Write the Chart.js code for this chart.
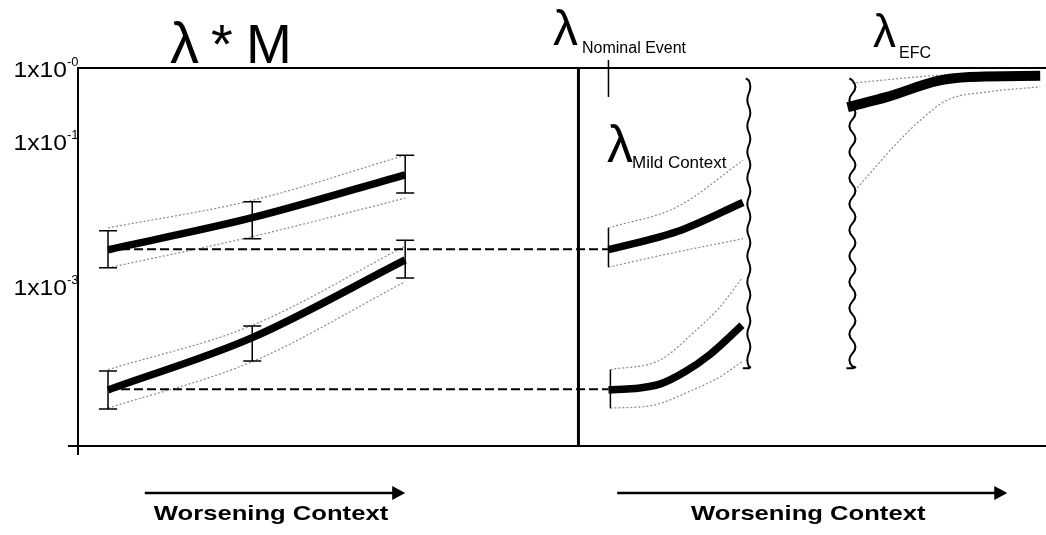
<!DOCTYPE html>
<html>
<head>
<meta charset="utf-8">
<script src="https://cdn.jsdelivr.net/npm/chart.js@4.4.1/dist/chart.umd.min.js"></script>
<style>
  html, body { margin: 0; padding: 0; background: #fff; }
  #wrap { width: 1046px; height: 535px; }
</style>
</head>
<body>
<div id="wrap"><canvas id="chart"></canvas></div>
<script>
// x = context severity (0..100), y = probability on a log axis
const yMin = 6.3e-6;
const yMax = 1;
const yTickValues = [1, 0.1, 0.001];
const yTickExp = ["-0", "-1", "-3"];

// left panel: lambda * M, three context levels
const leftX = [3.1, 18.0, 33.8];
const taskA = [3.16e-3, 8.71e-3, 3.39e-2];
const taskAHi = [5.75e-3, 1.45e-2, 6.31e-2];
const taskALo = [1.78e-3, 4.47e-3, 1.91e-2];
const bandAUp = [6.31e-3, 1.51e-2, 6.31e-2];
const bandALow = [1.78e-3, 4.79e-3, 1.62e-2];

const taskB = [3.72e-5, 1.95e-4, 2.29e-3];
const taskBHi = [6.76e-5, 2.82e-4, 4.27e-3];
const taskBLo = [2.04e-5, 9.33e-5, 1.29e-3];
const bandBUp = [7.08e-5, 2.88e-4, 3.55e-3];
const bandBLow = [2.09e-5, 9.12e-5, 1.15e-3];

// nominal levels carried across (dashed)
const nominalX = [3.1, 54.8];
const nominalA = [3.2e-3, 3.2e-3];
const nominalB = [3.8e-5, 3.8e-5];

// divider between the two panels
const dividerX = [51.7, 51.7];
const dividerY = [1, 6.3e-6];

// right panel: mild context
const mildX = [54.8, 61.9, 68.7];
const mildA = [3.16e-3, 5.62e-3, 1.41e-2];
const mildAUp = [6.31e-3, 1.23e-2, 5.37e-2];
const mildALow = [1.82e-3, 2.95e-3, 4.47e-3];

const mildBX = [54.8, 57.5, 60.1, 62.7, 65.3, 68.6];
const mildB = [3.72e-5, 3.89e-5, 4.47e-5, 6.61e-5, 1.15e-4, 2.88e-4];
const mildBUpX = [55.0, 60.1, 63.5, 66.3, 68.6];
const mildBUp = [7.08e-5, 9.55e-5, 2.24e-4, 5.13e-4, 1.29e-3];
const mildBLowX = [55.0, 59.4, 63.5, 66.3, 68.6];
const mildBLow = [2.09e-5, 2.29e-5, 3.72e-5, 5.62e-5, 9.12e-5];

// error forcing context
const efcX = [79.5, 83.6, 88.7, 92.1, 99.4];
const efc = [0.29, 0.40, 0.66, 0.75, 0.78];
const efcUpX = [80.0, 88.7, 99.4];
const efcUp = [0.62, 0.79, 0.88];
const efcLowX = [80.5, 84.9, 87.0, 89.8, 93.9, 99.4];
const efcLow = [0.0224, 0.102, 0.19, 0.363, 0.468, 0.55];

// breaks, markers, arrows
const breakX = [69.3, 80.0];
const breakAmp = [3, 6];
const breakRange = [0.72, 7.4e-5];
const nominalTickX = 54.8;
const arrowFrom = [6.9, 55.7];
const arrowTo = [33.8, 96.0];
const arrowLabel = ["Worsening Context", "Worsening Context"];

const pts = (xs, ys) => xs.map((x, i) => ({ x: x, y: ys[i] }));

function thick(xs, ys, w) {
  return { data: pts(xs, ys), borderColor: "#000", borderWidth: w || 7.5, pointRadius: 0,
           cubicInterpolationMode: "monotone", borderCapStyle: "butt", order: 1 };
}
function band(xs, ys) {
  return { data: pts(xs, ys), borderColor: "#8a8a8a", borderWidth: 1.2, borderDash: [2, 2],
           pointRadius: 0, cubicInterpolationMode: "monotone", order: 3 };
}
function dashed(xs, ys) {
  return { data: pts(xs, ys), borderColor: "#000", borderWidth: 2, borderDash: [9, 4],
           pointRadius: 0, order: 2 };
}

function txt(ctx, s, x, y, font, align, sx) {
  ctx.save();
  ctx.font = font;
  ctx.textAlign = align || "left";
  ctx.textBaseline = "alphabetic";
  ctx.fillStyle = "#000";
  ctx.translate(x, y);
  ctx.scale(sx || 1, 1);
  ctx.fillText(s, 0, 0);
  ctx.restore();
}

function wavy(ctx, x, yTop, yBot, amp) {
  ctx.beginPath();
  ctx.moveTo(x - 3, yTop);
  ctx.lineTo(x, yTop + 2);
  let y = yTop + 2;
  let s = 1;
  while (y < yBot) {
    const ny = Math.min(y + 13, yBot);
    ctx.quadraticCurveTo(x + s * amp, (y + ny) / 2, x, ny);
    y = ny;
    s = -s;
  }
  ctx.lineTo(x - 6, yBot);
  ctx.stroke();
}

const overlay = {
  id: "overlay",
  afterDraw(chart) {
    const ctx = chart.ctx;
    const xs = chart.scales.x;
    const ys = chart.scales.y;
    const area = chart.chartArea;
    ctx.save();
    ctx.strokeStyle = "#000";
    ctx.lineWidth = 2;

    // axis crossing stubs
    ctx.beginPath();
    ctx.moveTo(area.left - 10, area.bottom);
    ctx.lineTo(area.left, area.bottom);
    ctx.moveTo(area.left, area.bottom);
    ctx.lineTo(area.left, area.bottom + 9);
    ctx.stroke();

    // y tick labels with superscripts
    yTickValues.forEach((v, i) => {
      const py = ys.getPixelForValue(v);
      txt(ctx, "1x10", area.left - 11, py + 9, "22px 'Liberation Sans', Arial", "right", 1.12);
      txt(ctx, yTickExp[i], area.left - 11, py - 2, "13px 'Liberation Sans', Arial", "left", 1);
    });

    // error bars
    ctx.lineWidth = 1.5;
    const bars = [[leftX, taskALo, taskAHi, true], [leftX, taskBLo, taskBHi, true],
                  [[mildX[0]], [mildALow[0]], [mildAUp[0]], false],
                  [[mildBUpX[0]], [mildBLow[0]], [mildBUp[0]], false]];
    bars.forEach(([bx, lo, hi, cap]) => {
      bx.forEach((x, i) => {
        const px = xs.getPixelForValue(x);
        const p1 = ys.getPixelForValue(lo[i]);
        const p2 = ys.getPixelForValue(hi[i]);
        ctx.beginPath();
        ctx.moveTo(px, p1);
        ctx.lineTo(px, p2);
        if (cap) {
          ctx.moveTo(px - 9, p1); ctx.lineTo(px + 9, p1);
          ctx.moveTo(px - 9, p2); ctx.lineTo(px + 9, p2);
        }
        ctx.stroke();
      });
    });

    // nominal marker tick
    const nx = xs.getPixelForValue(nominalTickX);
    ctx.lineWidth = 1.5;
    ctx.beginPath();
    ctx.moveTo(nx, area.top - 8);
    ctx.lineTo(nx, area.top + 29);
    ctx.stroke();

    // break lines
    ctx.lineWidth = 2;
    breakX.forEach((bx, i) => {
      wavy(ctx, xs.getPixelForValue(bx), ys.getPixelForValue(breakRange[0]),
           ys.getPixelForValue(breakRange[1]), breakAmp[i]);
    });

    // arrows and labels
    ctx.lineWidth = 2.5;
    arrowFrom.forEach((a, i) => {
      const x1 = xs.getPixelForValue(a);
      const x2 = xs.getPixelForValue(arrowTo[i]);
      const y = area.bottom + 47;
      ctx.beginPath();
      ctx.moveTo(x1, y);
      ctx.lineTo(x2 - 10, y);
      ctx.stroke();
      ctx.beginPath();
      ctx.moveTo(x2 - 13, y - 7);
      ctx.lineTo(x2, y);
      ctx.lineTo(x2 - 13, y + 7);
      ctx.closePath();
      ctx.fillStyle = "#000";
      ctx.fill();
      txt(ctx, arrowLabel[i], (x1 + x2) / 2 - 4, area.bottom + 74,
          "bold 21px 'Liberation Sans', Arial", "center", 1.22);
    });

    // lambda labels
    const sans = "'Liberation Sans', Arial";
    txt(ctx, "\u03bb", 170, 63, "58px " + sans);
    txt(ctx, "*", 211, 63, "56px " + sans);
    txt(ctx, "M", 246, 63, "55px " + sans);
    txt(ctx, "\u03bb", 553, 45, "50px " + sans);
    txt(ctx, "Nominal Event", 582, 53, "16px " + sans);
    txt(ctx, "\u03bb", 873, 47, "46px " + sans);
    txt(ctx, "EFC", 899, 58, "16px " + sans);
    txt(ctx, "\u03bb", 607, 162, "52px " + sans);
    txt(ctx, "Mild Context", 632, 168, "17px " + sans);
    ctx.restore();
  }
};

new Chart(document.getElementById("chart"), {
  type: "line",
  data: {
    datasets: [
      band(leftX, bandAUp), band(leftX, bandALow),
      band(leftX, bandBUp), band(leftX, bandBLow),
      band(mildX, mildAUp), band(mildX, mildALow),
      band(mildBUpX, mildBUp), band(mildBLowX, mildBLow),
      band(efcUpX, efcUp), band(efcLowX, efcLow),
      dashed(nominalX, nominalA), dashed(nominalX, nominalB),
      { data: pts(dividerX, dividerY), borderColor: "#000", borderWidth: 3, pointRadius: 0, order: 2 },
      thick(leftX, taskA), thick(leftX, taskB),
      thick(mildX, mildA), thick(mildBX, mildB),
      thick(efcX, efc, 10)
    ]
  },
  options: {
    responsive: true,
    maintainAspectRatio: false,
    animation: false,
    layout: { autoPadding: false, padding: { top: 68, left: 0, right: 0, bottom: 89 } },
    plugins: { legend: { display: false }, tooltip: { enabled: false } },
    scales: {
      x: {
        type: "linear", min: 0, max: 100,
        ticks: { display: false },
        grid: { display: false },
        border: { display: true, color: "#000", width: 2 },
        afterFit: (s) => { s.height = 0; }
      },
      y: {
        type: "logarithmic", min: yMin, max: yMax,
        afterBuildTicks: (s) => { s.ticks = yTickValues.map((v) => ({ value: v })); },
        ticks: { display: false },
        grid: {
          drawTicks: false,
          color: (c) => (c.tick && c.tick.value === 1 ? "#000" : "rgba(0,0,0,0)"),
          lineWidth: 2
        },
        border: { display: true, color: "#000", width: 2 },
        afterFit: (s) => { s.width = 78; }
      }
    }
  },
  plugins: [overlay]
});
</script>
</body>
</html>
